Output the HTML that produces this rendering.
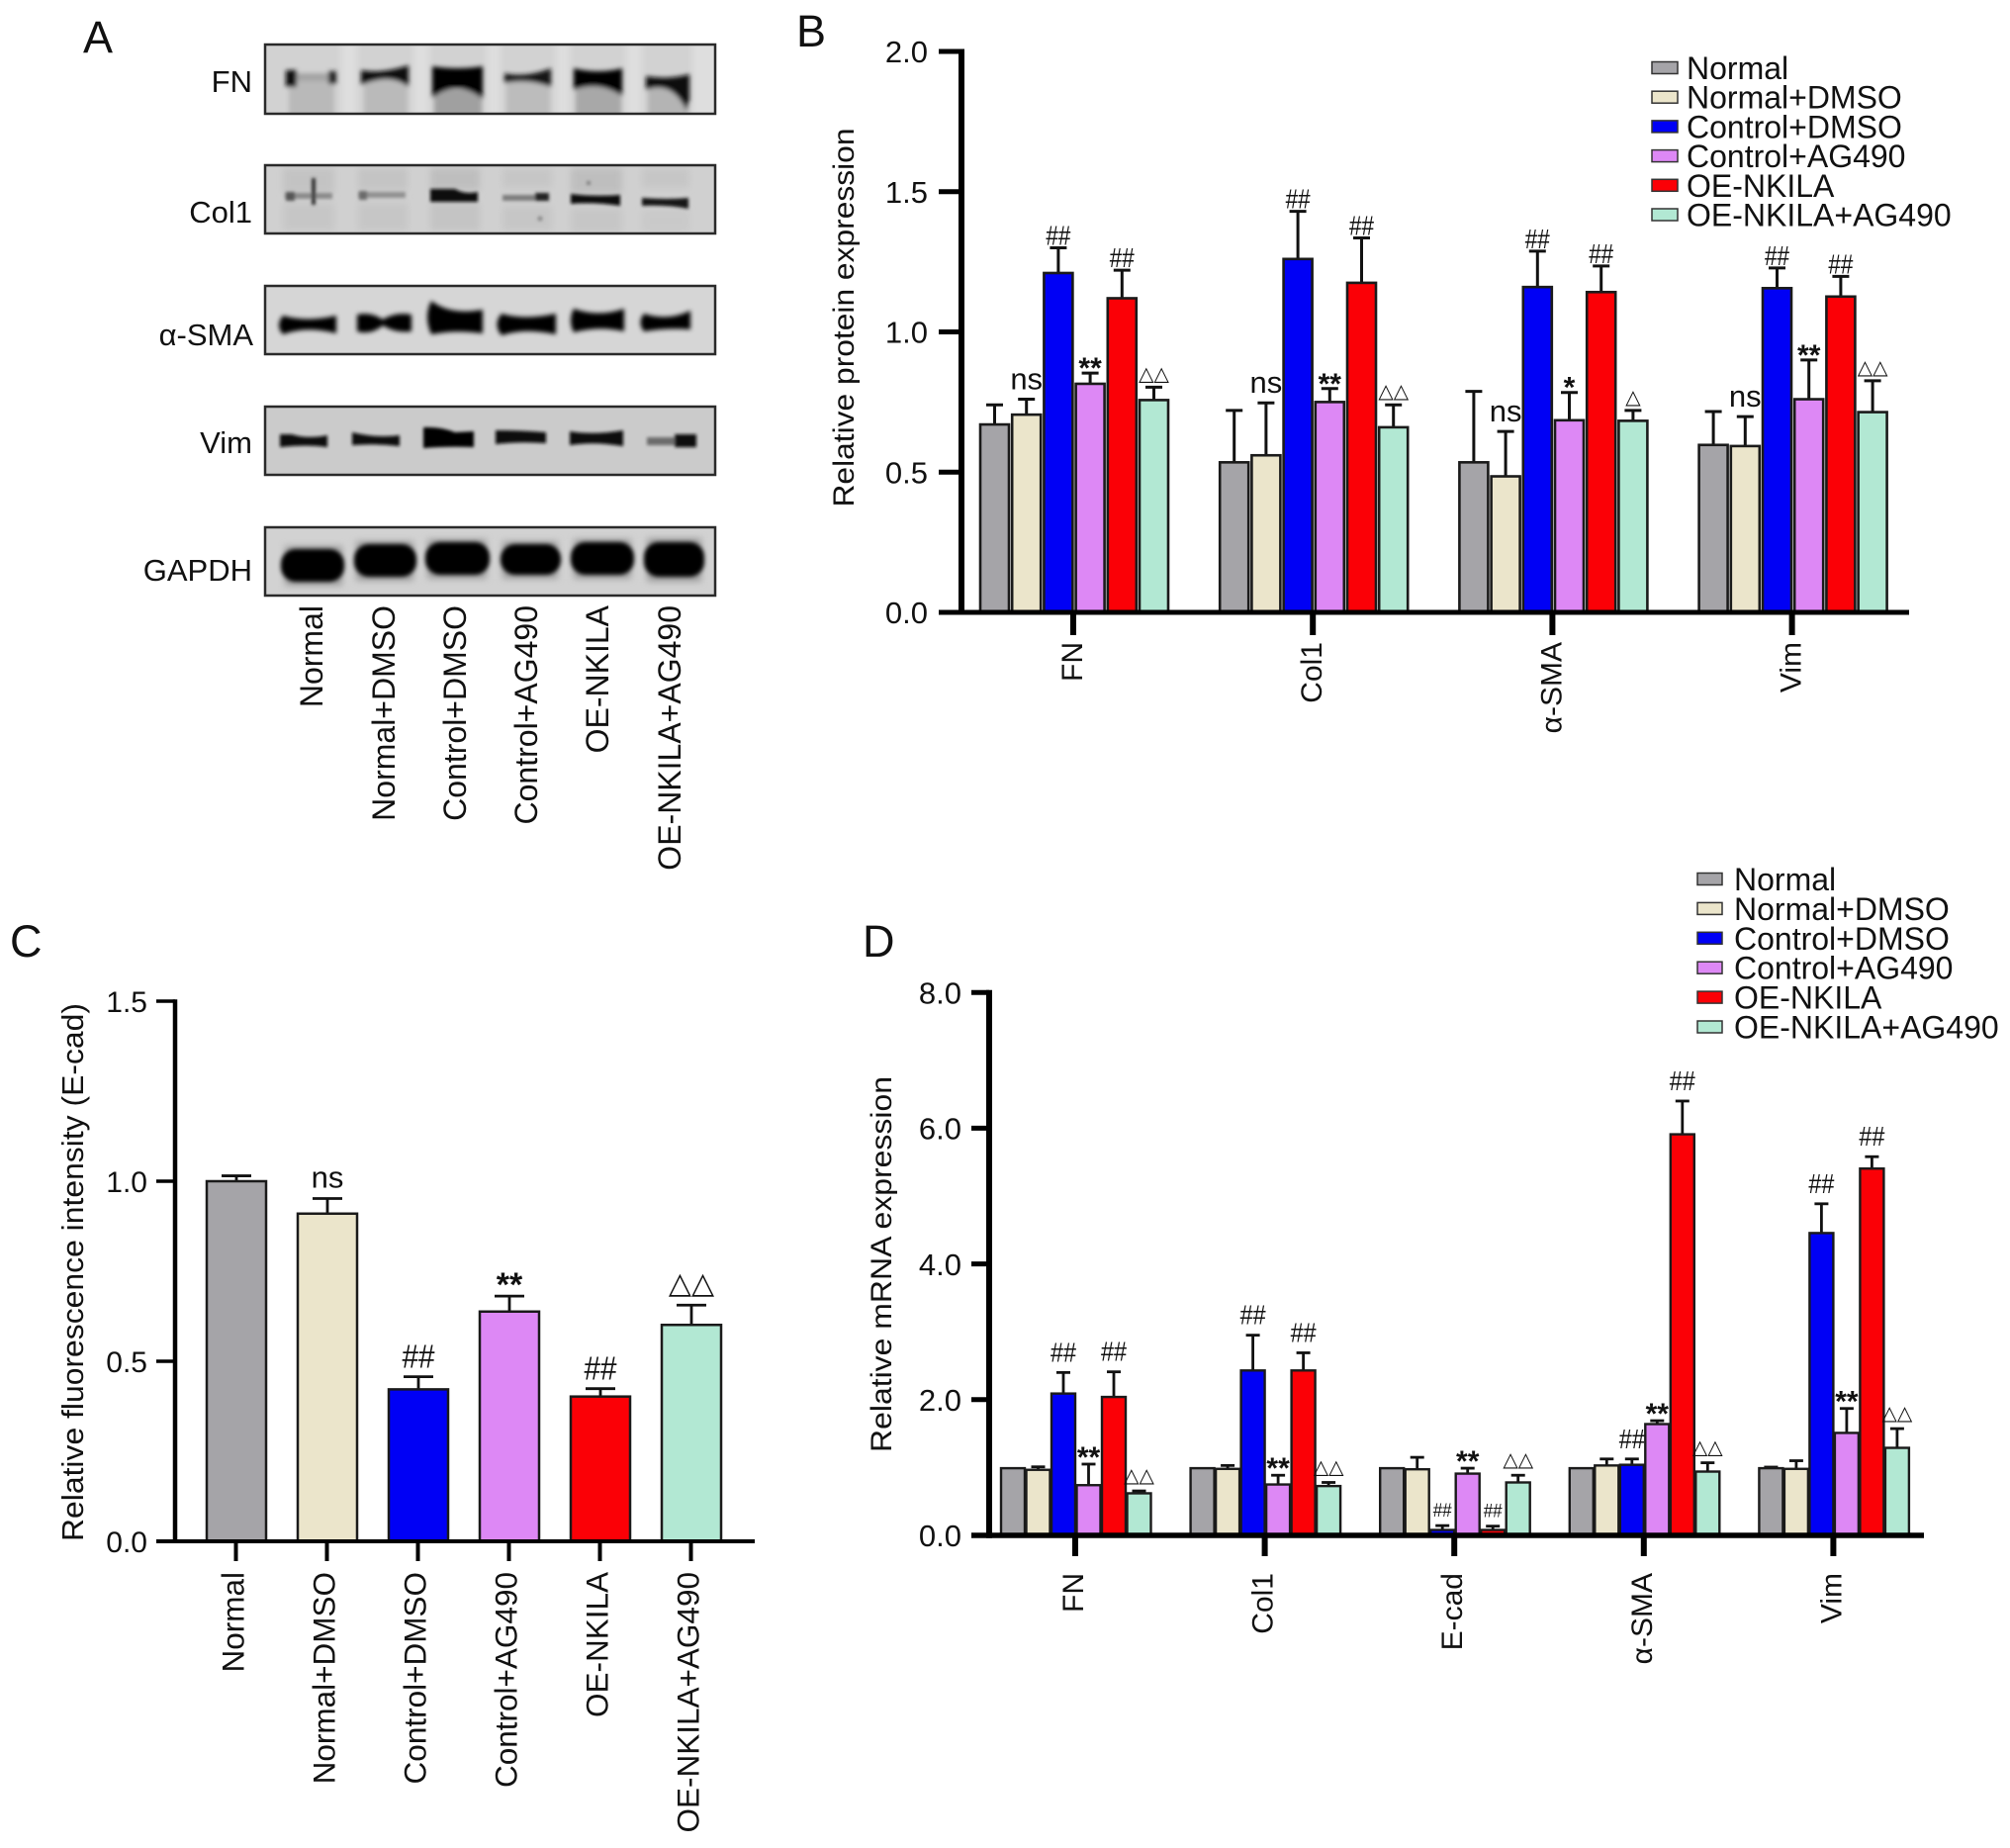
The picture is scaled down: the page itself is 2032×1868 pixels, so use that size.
<!DOCTYPE html>
<html lang="en">
<head>
<meta charset="utf-8">
<title>Relative protein and mRNA expression panels</title>
<style>
html,body{margin:0;padding:0;background:#fff;width:2032px;height:1868px;overflow:hidden}
svg{display:block}
text{font-family:"Liberation Sans",Arial,sans-serif;fill:#111}
</style>
</head>
<body>
<svg id="fig" xmlns="http://www.w3.org/2000/svg" width="2032" height="1868" viewBox="0 0 2032 1868">
<defs>
<filter id="b3" x="-30%" y="-60%" width="160%" height="220%"><feGaussianBlur stdDeviation="2"/></filter>
<filter id="b2" x="-10%" y="-60%" width="120%" height="220%"><feGaussianBlur stdDeviation="2.4"/></filter>
<filter id="b1" x="-10%" y="-60%" width="120%" height="220%"><feGaussianBlur stdDeviation="1.6"/></filter>
<filter id="b5" x="-30%" y="-30%" width="160%" height="160%"><feGaussianBlur stdDeviation="3.5"/></filter>
<clipPath id="cFN"><rect x="268" y="45" width="455" height="70"/></clipPath>
<clipPath id="cCol"><rect x="268" y="167" width="455" height="69"/></clipPath>
<clipPath id="cSMA"><rect x="268" y="289" width="455" height="69"/></clipPath>
<clipPath id="cVim"><rect x="268" y="411" width="455" height="69"/></clipPath>
<clipPath id="cGAP"><rect x="268" y="533" width="455" height="69"/></clipPath>
</defs>
<rect width="2032" height="1868" fill="#fff"/>

<text x="84" y="53" font-size="45">A</text>
<text x="805" y="47" font-size="45">B</text>
<text x="10" y="967" font-size="45">C</text>
<text x="872" y="967" font-size="45">D</text>

<g>
<rect x="268" y="45" width="455" height="70" fill="#d2d2d2"/>
<g clip-path="url(#cFN)">
<g filter="url(#b5)" fill="#dedede"><rect x="345" y="40" width="16" height="80"/><rect x="418" y="40" width="16" height="80"/><rect x="492" y="40" width="14" height="80"/><rect x="562" y="40" width="14" height="80"/><rect x="633" y="40" width="16" height="80"/><rect x="700" y="40" width="30" height="80"/></g>
<g filter="url(#b2)">
<rect x="292" y="82" width="46" height="36" fill="#b9b9b9"/><rect x="368" y="80" width="44" height="38" fill="#bababa"/><rect x="439" y="90" width="48" height="28" fill="#a0a0a0"/><rect x="512" y="80" width="44" height="38" fill="#bcbcbc"/><rect x="582" y="85" width="46" height="33" fill="#a8a8a8"/><rect x="655" y="85" width="41" height="33" fill="#b4b4b4"/>
<path d="M300 74H332V82H300Z" fill="#a4a4a4"/>
<path d="M289 71H300V88H289Z" fill="#111"/><path d="M332 72H340V85H332Z" fill="#222"/>
<path d="M365 71Q385 75 413 66V88Q395 73 365 86Z" fill="#0a0a0a"/>
<path d="M437 67Q462 71 488 67V100Q462 79 437 99Z" fill="#050505"/>
<path d="M510 74Q530 79 557 69V88Q535 79 510 84Z" fill="#161616"/>
<path d="M580 69Q605 75 629 69V97Q605 81 580 91Z" fill="#060606"/>
<path d="M653 77Q675 81 697 75V100L694 112Q680 81 653 91Z" fill="#0a0a0a"/>
</g></g>
<rect x="268" y="45" width="455" height="70" fill="none" stroke="#2a2a2a" stroke-width="2.5"/>
</g>

<g>
<rect x="268" y="167" width="455" height="69" fill="#d0d0d0"/>
<g clip-path="url(#cCol)">
<g filter="url(#b5)" fill="#bdbdbd">
<rect x="286" y="170" width="52" height="25" opacity=".7"/><rect x="362" y="170" width="50" height="22"  opacity=".6"/><rect x="435" y="170" width="50" height="22" opacity=".9"/><rect x="508" y="170" width="50" height="20" opacity=".5"/><rect x="577" y="170" width="52" height="25" opacity=".9"/><rect x="649" y="170" width="48" height="20" opacity=".5"/>
<rect x="286" y="205" width="52" height="28" opacity=".5"/><rect x="362" y="205" width="50" height="28" opacity=".5"/><rect x="435" y="205" width="50" height="28" opacity=".6"/><rect x="508" y="208" width="50" height="25" opacity=".5"/><rect x="577" y="210" width="52" height="25" opacity=".5"/><rect x="649" y="212" width="48" height="22" opacity=".4"/>
</g>
<g filter="url(#b1)">
<rect x="288" y="195" width="48" height="6" fill="#8a8a8a"/><rect x="289" y="194" width="9" height="9" fill="#555"/><rect x="315" y="180" width="4" height="27" fill="#333"/><rect x="362" y="194" width="48" height="6" fill="#919191"/><rect x="363" y="193" width="8" height="9" fill="#6a6a6a"/>
<path d="M435 191H460Q470 197 483 194V204H435Z" fill="#0c0c0c"/>
<rect x="508" y="197" width="47" height="6" fill="#7d7d7d"/><rect x="541" y="195" width="14" height="8" fill="#222"/>
<path d="M577 196Q600 199 627 197V208Q600 204 577 206Z" fill="#080808"/>
<path d="M649 200Q675 202 696 200V211Q675 207 649 208Z" fill="#141414"/>
<circle cx="595" cy="185" r="2" fill="#777"/><circle cx="546" cy="221" r="2.5" fill="#888"/>
</g></g>
<rect x="268" y="167" width="455" height="69" fill="none" stroke="#2a2a2a" stroke-width="2.5"/>
</g>

<g>
<rect x="268" y="289" width="455" height="69" fill="#d6d6d6"/>
<g clip-path="url(#cSMA)"><g filter="url(#b2)" fill="#060606">
<path d="M286 319Q310 326 340 319V337Q310 329 286 338Q278 329 286 319Z"/>
<path d="M361 318Q375 315 387 323Q400 315 416 318V335Q400 337 387 329Q375 339 361 335Z"/>
<path d="M436 304Q455 319 488 313V337Q460 333 436 338Q428 320 436 304Z"/>
<path d="M507 317Q530 324 562 317V338Q530 331 507 339Q498 328 507 317Z"/>
<path d="M580 312Q605 321 631 312V335Q605 329 580 336Q574 324 580 312Z"/>
<path d="M651 317Q675 325 698 314V333Q675 331 651 335Q644 326 651 317Z"/>
</g></g>
<rect x="268" y="289" width="455" height="69" fill="none" stroke="#2a2a2a" stroke-width="2.5"/>
</g>

<g>
<rect x="268" y="411" width="455" height="69" fill="#cbcbcb"/>
<g clip-path="url(#cVim)"><g filter="url(#b1)" fill="#0e0e0e">
<path d="M283 439H295Q310 444 331 440V452Q310 449 283 452Z"/>
<path d="M356 437Q380 443 404 440V451Q380 448 356 450Z"/>
<path d="M428 432Q445 431 460 437L479 436V452Q450 451 428 453Z" fill="#050505"/>
<path d="M501 435Q525 435 552 437V448Q525 446 501 449Z"/>
<path d="M576 436Q600 440 630 435V451Q600 446 576 450Z"/>
<rect x="654" y="442" width="28" height="8" fill="#6c6c6c"/><rect x="682" y="439" width="22" height="13" fill="#111"/>
</g></g>
<rect x="268" y="411" width="455" height="69" fill="none" stroke="#2a2a2a" stroke-width="2.5"/>
</g>

<g>
<rect x="268" y="533" width="455" height="69" fill="#d2d2d2"/>
<g clip-path="url(#cGAP)">
<g filter="url(#b5)" fill="#9e9e9e"><rect x="288" y="552" width="58" height="40"/><rect x="360" y="547" width="58" height="40"/><rect x="432" y="545" width="60" height="40"/><rect x="508" y="547" width="56" height="38"/><rect x="580" y="545" width="58" height="40"/><rect x="654" y="544" width="55" height="44"/></g>
<g filter="url(#b3)" fill="#030303">
<rect x="284" y="555" width="64" height="33" rx="15"/><rect x="358" y="550" width="63" height="33" rx="15"/><rect x="430" y="548" width="65" height="33" rx="15"/><rect x="506" y="550" width="61" height="31" rx="15"/><rect x="577" y="548" width="64" height="33" rx="15"/><rect x="651" y="548" width="61" height="35" rx="15"/>
</g></g>
<rect x="268" y="533" width="455" height="69" fill="none" stroke="#2a2a2a" stroke-width="2.5"/>
</g>

<g font-size="31" text-anchor="end">
<text x="255" y="93">FN</text>
<text x="255" y="225">Col1</text>
<text x="256" y="349">α-SMA</text>
<text x="255" y="458">Vim</text>
<text x="255" y="587">GAPDH</text>
</g>
<g font-size="32" text-anchor="end">
<text transform="translate(326 612) rotate(-90)">Normal</text>
<text transform="translate(399 612) rotate(-90)">Normal+DMSO</text>
<text transform="translate(471 612) rotate(-90)">Control+DMSO</text>
<text transform="translate(543 612) rotate(-90)">Control+AG490</text>
<text transform="translate(615 612) rotate(-90)">OE-NKILA</text>
<text transform="translate(688 612) rotate(-90)">OE-NKILA+AG490</text>
</g>

<g id="panelB"></g>
<g id="panelC"></g>
<g id="panelD"></g>
</svg>

<script>
// Shared series
const seriesNames = ['Normal', 'Normal+DMSO', 'Control+DMSO', 'Control+AG490', 'OE-NKILA', 'OE-NKILA+AG490'];
const seriesColors = ['#a5a4a8', '#ebe5cb', '#0000f5', '#dd88f5', '#fb0006', '#b2e8d3'];

// Panel B data
const bCategories = ['FN', 'Col1', 'α-SMA', 'Vim'];
const bTickValues = [0, 0.5, 1.0, 1.5, 2.0];
const bTickLabels = ['0.0', '0.5', '1.0', '1.5', '2.0'];
const bFN = [0.67, 0.705, 1.21, 0.815, 1.12, 0.757];
const bFNErr = [0.74, 0.76, 1.30, 0.853, 1.22, 0.803];
const bFNAnn = ['', 'ns', '##', '**', '##', '△△'];
const bCol1 = [0.535, 0.56, 1.26, 0.75, 1.175, 0.66];
const bCol1Err = [0.72, 0.747, 1.43, 0.798, 1.335, 0.74];
const bCol1Ann = ['', 'ns', '##', '**', '##', '△△'];
const bSMA = [0.535, 0.485, 1.16, 0.685, 1.142, 0.683];
const bSMAErr = [0.788, 0.645, 1.288, 0.784, 1.235, 0.72];
const bSMAAnn = ['', 'ns', '##', '*', '##', '△'];
const bVim = [0.597, 0.593, 1.156, 0.76, 1.126, 0.714];
const bVimErr = [0.716, 0.698, 1.228, 0.90, 1.198, 0.826];
const bVimAnn = ['', 'ns', '##', '**', '##', '△△'];

// Panel C data
const cTickValues = [0, 0.5, 1.0, 1.5];
const cTickLabels = ['0.0', '0.5', '1.0', '1.5'];
const cValues = [1.0, 0.91, 0.422, 0.638, 0.402, 0.601];
const cErr = [1.015, 0.952, 0.457, 0.681, 0.424, 0.656];
const cAnn = ['', 'ns', '##', '**', '##', '△△'];

// Panel D data
const dCategories = ['FN', 'Col1', 'E-cad', 'α-SMA', 'Vim'];
const dTickValues = [0, 2, 4, 6, 8];
const dTickLabels = ['0.0', '2.0', '4.0', '6.0', '8.0'];
const dFN = [0.99, 0.966, 2.09, 0.74, 2.04, 0.62];
const dFNErr = [null, 1.01, 2.40, 1.05, 2.41, 0.655];
const dFNAnn = ['', '', '##', '**', '##', '△△'];
const dCol1 = [0.99, 0.98, 2.43, 0.75, 2.43, 0.727];
const dCol1Err = [null, 1.03, 2.95, 0.886, 2.69, 0.78];
const dCol1Ann = ['', '', '##', '**', '##', '△△'];
const dEcad = [0.99, 0.974, 0.08, 0.91, 0.08, 0.78];
const dEcadErr = [null, 1.15, 0.144, 0.99, 0.136, 0.886];
const dEcadAnn = ['', '', '##s', '**', '##s', '△△'];
const dSMA = [0.99, 1.03, 1.04, 1.64, 5.91, 0.94];
const dSMAErr = [null, 1.126, 1.126, 1.69, 6.40, 1.07];
const dSMAAnn = ['', '', '##', '**', '##', '△△'];
const dVim = [0.99, 0.98, 4.455, 1.51, 5.405, 1.29];
const dVimErr = [1.006, 1.10, 4.886, 1.87, 5.58, 1.573];
const dVimAnn = ['', '', '##', '**', '##', '△△'];

const NS = 'http://www.w3.org/2000/svg';
function svgEl(parent, tag, attrs) {
  const el = document.createElementNS(NS, tag);
  for (const k in attrs) el.setAttribute(k, attrs[k]);
  parent.appendChild(el);
  return el;
}
function slug(s) {
  return String(s).toLowerCase().replace(/α/g, 'alpha').replace(/[^a-z0-9]+/g, '-');
}

function drawChart(root, prefix, cfg) {
  const yOf = v => cfg.y0 - v * cfg.perUnit;
  const barLeft = (g, s) => cfg.x0 + g * cfg.groupPitch + s * cfg.pitch;
  const groups = cfg.groups;

  groups.forEach((grp, g) => {
    grp.values.forEach((v, s) => {
      const bx = barLeft(g, s);
      const cx = bx + cfg.barW / 2;
      const top = yOf(v);
      const key = prefix + '-' + slug(grp.name) + '-' + slug(seriesNames[s]);

      const err = grp.err[s];
      if (err !== null) {
        const ey = yOf(err);
        const stem = svgEl(root, 'line', {x1: cx, x2: cx, y1: top, y2: ey, stroke: '#111', 'stroke-width': cfg.errW});
        
        
        const cap = svgEl(root, 'line', {x1: cx - cfg.capW / 2, x2: cx + cfg.capW / 2, y1: ey, y2: ey, stroke: '#111', 'stroke-width': cfg.errW});
        
        
      }

      const bar = svgEl(root, 'rect', {x: bx, y: top, width: cfg.barW, height: Math.max(0, cfg.y0 - top), fill: seriesColors[s], stroke: '#1a1a1a', 'stroke-width': cfg.barStroke});
      
      

      const label = grp.ann[s];
      if (label) {
        const st = cfg.annStyles[label];
        const base = err !== null ? yOf(err) : top;
        const t = svgEl(root, 'text', {x: cx, y: base - st.gap, 'font-size': st.size, 'text-anchor': 'middle'});
        t.textContent = st.text;
        if (st.len) {
          t.setAttribute('textLength', st.len);
          t.setAttribute('lengthAdjust', 'spacingAndGlyphs');
        }
        if (st.bold) t.setAttribute('font-weight', 'bold');
        if (st.tri) t.setAttribute('style', 'font-family:"DejaVu Sans",sans-serif');
        
        
      }
    });

    const gx = cfg.tickX0 + g * cfg.tickPitch;
    if (cfg.showXTicks) {
      const tick = svgEl(root, 'line', {x1: gx, x2: gx, y1: cfg.y0, y2: cfg.xTickEnd, stroke: '#000', 'stroke-width': cfg.axisW});
      
      
      const lab = svgEl(root, 'text', {transform: 'translate(' + (gx + cfg.xLabelShift) + ' ' + cfg.xLabelTop + ') rotate(-90)', 'font-size': cfg.xLabelSize, 'text-anchor': 'end'});
      lab.textContent = grp.name;
      
      
    }
  });

  const yAxis = svgEl(root, 'line', {x1: cfg.axisX, x2: cfg.axisX, y1: yOf(cfg.ticks[cfg.ticks.length - 1]) - cfg.yTickW / 2, y2: cfg.y0 + cfg.xAxisW / 2, stroke: '#000', 'stroke-width': cfg.axisW});
  
  

  const xAxis = svgEl(root, 'line', {x1: cfg.xAxisStart, x2: cfg.xAxisEnd, y1: cfg.y0, y2: cfg.y0, stroke: '#000', 'stroke-width': cfg.xAxisW});
  
  

  cfg.ticks.forEach((v, i) => {
    const ty = yOf(v);
    const tick = svgEl(root, 'line', {x1: cfg.xAxisStart, x2: cfg.axisX, y1: ty, y2: ty, stroke: '#000', 'stroke-width': cfg.yTickW});
    
    
    const t = svgEl(root, 'text', {x: cfg.tickLabelX, y: ty + cfg.tickSize * 0.36, 'font-size': cfg.tickSize, 'text-anchor': 'end'});
    t.textContent = cfg.tickLabels[i];
    
    
  });

  const title = svgEl(root, 'text', {transform: 'translate(' + cfg.titleX + ' ' + cfg.titleY + ') rotate(-90)', 'font-size': cfg.titleSize, 'text-anchor': 'middle', textLength: cfg.titleLen, lengthAdjust: 'spacingAndGlyphs'});
  title.textContent = cfg.title;
  
  

  if (cfg.legend) {
    seriesNames.forEach((name, i) => {
      const ly = cfg.legend.y + i * cfg.legend.step;
      const sw = svgEl(root, 'rect', {x: cfg.legend.x, y: ly - 6, width: cfg.legend.swW, height: 12, fill: seriesColors[i], stroke: '#333', 'stroke-width': 1.5});
      
      
      const t = svgEl(root, 'text', {x: cfg.legend.textX, y: ly + cfg.legend.size * 0.36, 'font-size': cfg.legend.size});
      t.textContent = name;
      
      
    });
  }
}

drawChart(document.getElementById('panelB'), 'b', {
  groups: [
    {name: bCategories[0], values: bFN, err: bFNErr, ann: bFNAnn},
    {name: bCategories[1], values: bCol1, err: bCol1Err, ann: bCol1Ann},
    {name: bCategories[2], values: bSMA, err: bSMAErr, ann: bSMAAnn},
    {name: bCategories[3], values: bVim, err: bVimErr, ann: bVimAnn}
  ],
  ticks: bTickValues, tickLabels: bTickLabels,
  x0: 991, barW: 29, pitch: 32.2, groupPitch: 242.2, y0: 619, perUnit: 283.5,
  tickX0: 1085, tickPitch: 242.2, showXTicks: true, xTickEnd: 642, xLabelShift: 9, xLabelTop: 649, xLabelSize: 30,
  axisX: 972, axisW: 6, xAxisW: 5, yTickW: 5, xAxisStart: 949, xAxisEnd: 1930,
  tickLabelX: 938, tickSize: 31, errW: 3, capW: 17, barStroke: 2.6,
  title: 'Relative protein expression', titleX: 863, titleY: 321, titleSize: 30, titleLen: 383,
  legend: {x: 1670, textX: 1705, y: 68.5, step: 29.7, swW: 26, size: 32},
  annStyles: {
    'ns': {text: 'ns', size: 31, gap: 10},
    '##': {text: '##', size: 28, len: 25, gap: 3},
    '**': {text: '**', size: 30, bold: true, gap: -5},
    '*': {text: '*', size: 30, bold: true, gap: -5},
    '△△': {text: '△△', size: 20, tri: true, gap: 7},
    '△': {text: '△', size: 20, tri: true, gap: 7}
  }
});

drawChart(document.getElementById('panelC'), 'c', {
  groups: [
    {name: 'Relative fluorescence', values: cValues, err: cErr, ann: cAnn}
  ],
  ticks: cTickValues, tickLabels: cTickLabels,
  x0: 209, barW: 60, pitch: 92, groupPitch: 0, y0: 1558, perUnit: 364,
  tickX0: 238, tickPitch: 0, showXTicks: false,
  axisX: 177, axisW: 4.5, xAxisW: 4, yTickW: 3.5, xAxisStart: 158, xAxisEnd: 763,
  tickLabelX: 149, tickSize: 30, errW: 2.8, capW: 30, barStroke: 2.5,
  title: 'Relative fluorescence intensity (E-cad)', titleX: 84, titleY: 1286, titleSize: 31, titleLen: 544,
  annStyles: {
    'ns': {text: 'ns', size: 31, gap: 11},
    '##': {text: '##', size: 33, len: 33, gap: 9},
    '**': {text: '**', size: 34, bold: true, gap: 0},
    '△△': {text: '△△', size: 30, tri: true, gap: 12}
  }
});

// Panel C category ticks and labels (one per bar)
const cRoot = document.getElementById('panelC');
seriesNames.forEach((name, i) => {
  const gx = 238.5 + i * 92;
  const tick = svgEl(cRoot, 'line', {x1: gx, x2: gx, y1: 1558, y2: 1578, stroke: '#000', 'stroke-width': 4});
  
  
  const lab = svgEl(cRoot, 'text', {transform: 'translate(' + (gx + 8) + ' 1589) rotate(-90)', 'font-size': 31.5, 'text-anchor': 'end'});
  lab.textContent = name;
  
  
});

drawChart(document.getElementById('panelD'), 'd', {
  groups: [
    {name: dCategories[0], values: dFN, err: dFNErr, ann: dFNAnn},
    {name: dCategories[1], values: dCol1, err: dCol1Err, ann: dCol1Ann},
    {name: dCategories[2], values: dEcad, err: dEcadErr, ann: dEcadAnn},
    {name: dCategories[3], values: dSMA, err: dSMAErr, ann: dSMAAnn},
    {name: dCategories[4], values: dVim, err: dVimErr, ann: dVimAnn}
  ],
  ticks: dTickValues, tickLabels: dTickLabels,
  x0: 1012, barW: 24, pitch: 25.5, groupPitch: 191.6, y0: 1552, perUnit: 68.6,
  tickX0: 1087, tickPitch: 191.6, showXTicks: true, xTickEnd: 1573, xLabelShift: 8, xLabelTop: 1590, xLabelSize: 30,
  axisX: 1000, axisW: 6, xAxisW: 5.5, yTickW: 5, xAxisStart: 982, xAxisEnd: 1945,
  tickLabelX: 972, tickSize: 31, errW: 2.8, capW: 14, barStroke: 2.4,
  title: 'Relative mRNA expression', titleX: 901, titleY: 1278, titleSize: 30, titleLen: 380,
  legend: {x: 1716, textX: 1753, y: 888.5, step: 29.9, swW: 25, size: 32},
  annStyles: {
    '##': {text: '##', size: 28, len: 26, gap: 11},
    '##s': {text: '##', size: 19, len: 19, gap: 9},
    '**': {text: '**', size: 30, bold: true, gap: -3},
    '△△': {text: '△△', size: 20, tri: true, gap: 9}
  }
});
</script>
</body>
</html>
